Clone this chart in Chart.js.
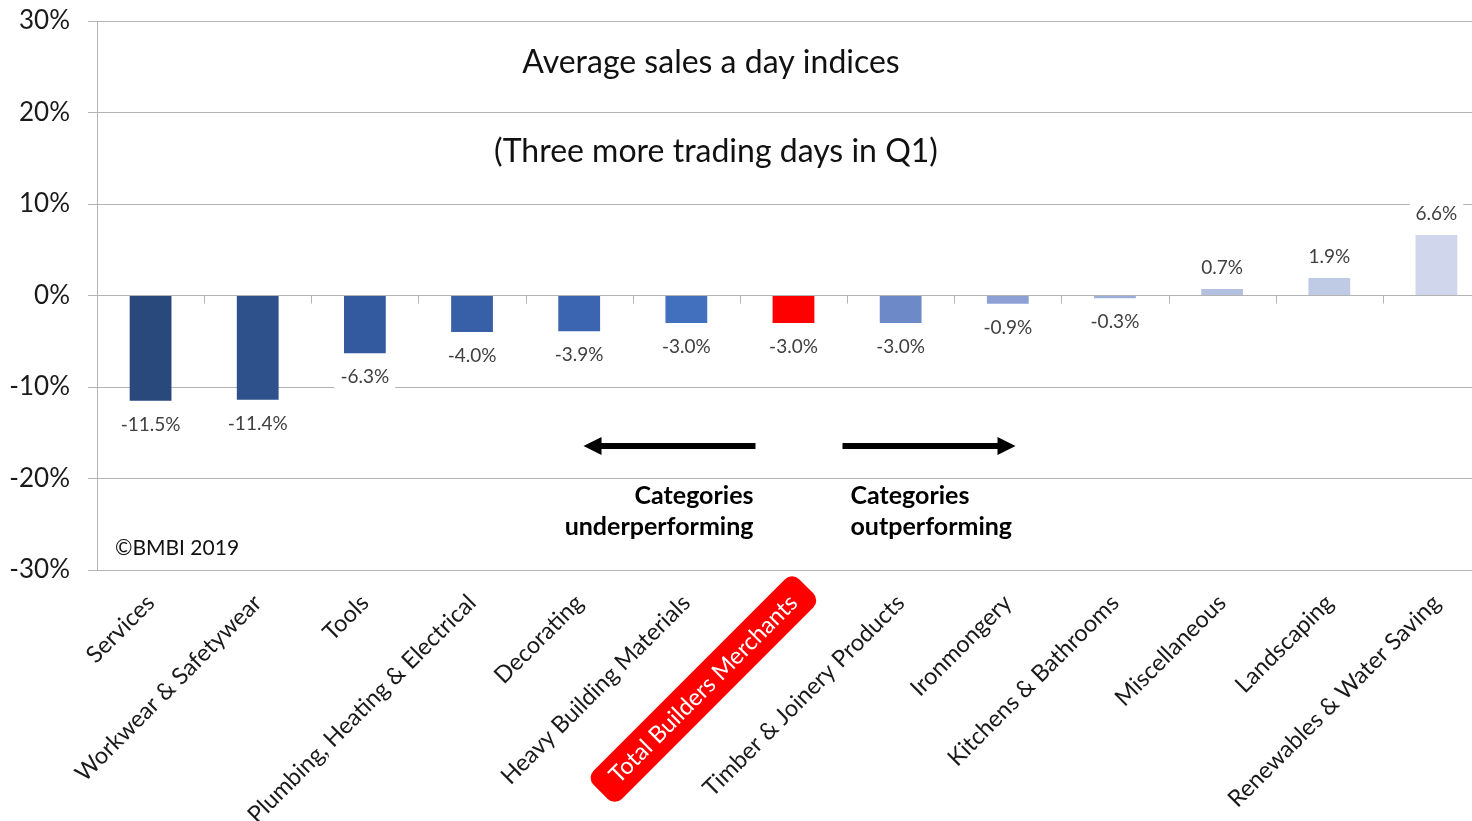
<!DOCTYPE html>
<html>
<head>
<meta charset="utf-8">
<script src="https://cdn.jsdelivr.net/npm/chart.js@4"></script>
<style>
  html, body { margin: 0; padding: 0; background: #fff; overflow: hidden; }
  #wrap { width: 1472px; height: 821px; overflow: hidden; }
</style>
</head>
<body>
<div id="wrap"><canvas id="salesChart" width="1490" height="821"></canvas></div>
<script>
const categories = ['Services', 'Workwear & Safetywear', 'Tools', 'Plumbing, Heating & Electrical',
    'Decorating', 'Heavy Building Materials', 'Total Builders Merchants', 'Timber & Joinery Products',
    'Ironmongery', 'Kitchens & Bathrooms', 'Miscellaneous', 'Landscaping', 'Renewables & Water Saving'];
const values = [-11.5, -11.4, -6.3, -4.0, -3.9, -3.0, -3.0, -3.0, -0.9, -0.3, 0.7, 1.9, 6.6];
const barColors = ['#29487c', '#2e518c', '#33599f', '#3760a8', '#3b65b0', '#4270be', '#ff0000',
    '#6d89c8', '#8ca0d4', '#9aaed9', '#b3c0e0', '#bfcae5', '#d0d7ec'];
const yTicks = [-30, -20, -10, 0, 10, 20, 30];
const highlight = 'Total Builders Merchants';

const FONT = 'Lato, "Open Sans", sans-serif';
const xFontSize = 23.5;

const ctx = document.getElementById('salesChart').getContext('2d');

// draws the extra bits: red label box, zero-line ticks, value labels, titles, arrows
const overlay = {
    id: 'overlay',
    beforeDraw(chart) {
        const c = chart.ctx;
        const xs = chart.scales.x;
        const i = categories.indexOf(highlight);
        const px = xs.getPixelForValue(i);
        const lh = xFontSize * 1.2;
        const y = xs.top + xs.options.ticks.padding;
        c.save();
        c.font = `${xFontSize}px ${FONT}`;
        const w = c.measureText(highlight).width;
        c.translate(px + lh / 2 * Math.sin(-Math.PI / 4), y);
        c.rotate(-Math.PI / 4);
        c.fillStyle = '#ff0000';
        c.beginPath();
        c.roundRect(-w - 18, lh / 2 - 20, w + 36, 40, 10);
        c.fill();
        c.restore();
    },
    afterDatasetsDraw(chart) {
        const c = chart.ctx;
        const xs = chart.scales.x;
        const ys = chart.scales.y;
        const area = chart.chartArea;
        const y0 = ys.getPixelForValue(0);

        // small tick marks on the zero line between categories
        c.save();
        c.strokeStyle = '#b3b3b3';
        c.lineWidth = 1;
        for (let k = 0; k < categories.length; k++) {
            const gx = Math.round((xs.getPixelForValue(k) + xs.getPixelForValue(k + 1)) / 2) + 0.5;
            c.beginPath();
            c.moveTo(gx, y0);
            c.lineTo(gx, y0 + 8);
            c.stroke();
        }
        c.restore();

        // value labels
        const meta = chart.getDatasetMeta(0);
        c.save();
        c.font = `19px ${FONT}`;
        c.textAlign = 'center';
        c.textBaseline = 'middle';
        meta.data.forEach((bar, k) => {
            const v = values[k];
            const txt = v.toFixed(1) + '%';
            const ty = v < 0 ? Math.max(bar.y, bar.base) + 24 : Math.min(bar.y, bar.base) - 21;
            const tw = c.measureText(txt).width;
            c.fillStyle = '#fff';
            c.fillRect(bar.x - tw / 2 - 6, ty - 11, tw + 12, 22);
            c.fillStyle = '#404040';
            c.fillText(txt, bar.x, ty);
        });
        c.restore();

        // titles
        const cx = xs.getPixelForValue(5.23);
        c.save();
        c.fillStyle = '#111';
        c.textAlign = 'center';
        c.textBaseline = 'middle';
        c.font = `32px ${FONT}`;
        c.fillText('Average sales a day indices', cx, ys.getPixelForValue(25.4));
        c.fillText('(Three more trading days in Q1)', cx + 5, ys.getPixelForValue(15.7));

        // arrows
        const ay = ys.getPixelForValue(-16.45);
        const arrow = (from, to) => {
            const dir = Math.sign(to - from);
            c.fillStyle = '#000';
            c.fillRect(Math.min(from, to - dir * 16), ay - 3, Math.abs(to - dir * 16 - from), 6);
            c.beginPath();
            c.moveTo(to, ay);
            c.lineTo(to - dir * 18, ay - 9);
            c.lineTo(to - dir * 18, ay + 9);
            c.closePath();
            c.fill();
        };
        const mid = xs.getPixelForValue(6);
        arrow(mid - 38, mid - 210);
        arrow(mid + 49, mid + 222);

        // category captions
        c.font = `bold 25px ${FONT}`;
        c.fillStyle = '#000';
        c.textAlign = 'right';
        c.fillText('Categories', mid - 40, ys.getPixelForValue(-21.9));
        c.fillText('underperforming', mid - 40, ys.getPixelForValue(-25.3));
        c.textAlign = 'left';
        c.fillText('Categories', mid + 57, ys.getPixelForValue(-21.9));
        c.fillText('outperforming', mid + 57, ys.getPixelForValue(-25.3));

        c.font = `21px ${FONT}`;
        c.fillStyle = '#111';
        c.fillText('\u00A9BMBI 2019', area.left + 18, ys.getPixelForValue(-27.6));
        c.restore();
    }
};

new Chart(ctx, {
    type: 'bar',
    data: {
        labels: categories,
        datasets: [{
            data: values,
            backgroundColor: barColors,
            borderWidth: 0,
            barPercentage: 0.39,
            categoryPercentage: 1
        }]
    },
    options: {
        responsive: false,
        animation: false,
        layout: { padding: { top: 21, right: 0, left: 0, bottom: 0 } },
        scales: {
            x: {
                grid: { display: false, drawTicks: false },
                border: { display: false },
                afterFit: (scale) => { scale.height = 251; },
                ticks: {
                    autoSkip: false,
                    minRotation: 45,
                    maxRotation: 45,
                    padding: 19,
                    color: (c) => categories[c.index] === highlight ? '#fff' : '#1a1a1a',
                    font: { family: FONT, size: xFontSize }
                }
            },
            y: {
                min: yTicks[0],
                max: yTicks[yTicks.length - 1],
                afterFit: (scale) => { scale.width = 97; scale.paddingTop = 0; scale.paddingBottom = 0; },
                afterBuildTicks: (scale) => { scale.ticks = yTicks.map(v => ({ value: v })); },
                grid: { color: '#b3b3b3', tickLength: 9, lineWidth: 1 },
                border: { color: '#b3b3b3' },
                ticks: {
                    padding: 18,
                    color: '#1a1a1a',
                    font: { family: FONT, size: 26 },
                    callback: (v) => v + '%'
                }
            }
        },
        plugins: {
            legend: { display: false },
            tooltip: { enabled: false }
        }
    },
    plugins: [overlay]
});
</script>
</body>
</html>
